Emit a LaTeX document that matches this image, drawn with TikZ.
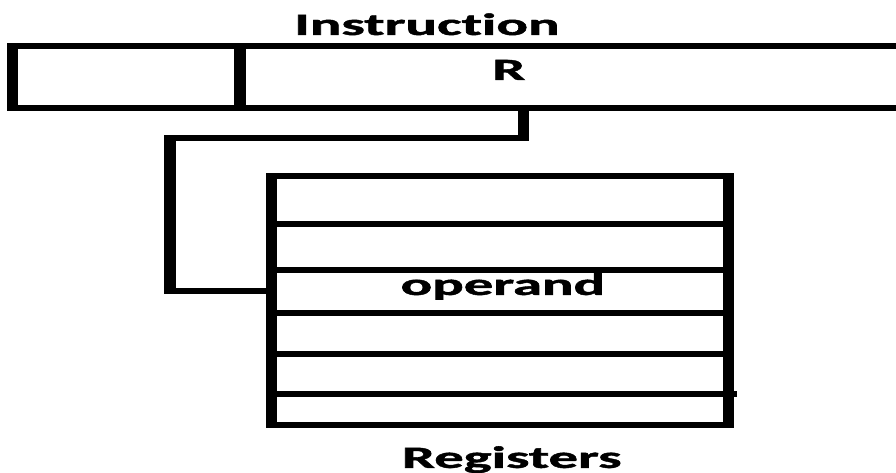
\documentclass[tikz,border=0pt]{standalone}
\usepackage{fontspec}
\setsansfont{Carlito}[Ligatures=NoCommon,BoldFeatures={FakeBold=1.2}]
\usetikzlibrary{positioning}
\newlength\px \setlength\px{0.025cm}
\newlength\hpx \setlength\hpx{0.013158cm}
\tikzset{
  field/.style={draw,rectangle,line width=6\px,outer sep=0pt,inner sep=0pt,minimum height=62\px},
  regrow/.style={draw,rectangle,line width=6\px,outer sep=0pt,inner sep=0pt,minimum width=457.5\hpx},
  wire/.style={line width=6\px},
  lbl/.style={font=\sffamily\bfseries\fontsize{22}{26}\selectfont,inner sep=0pt,anchor=base}
}

\begin{document}
\begin{tikzpicture}
  \useasboundingbox (0,0) rectangle (22.4,-11.8);
  \begin{scope}[transform canvas={xscale=1.9},x=\hpx,y=-\px]
	% instruction word: mode field + register field
	\node[field,minimum width=227.5\hpx] (mode) at (126.25,77) {};
	\node[field,minimum width=666\hpx,right=0pt of mode] (reg) {};
	\node[lbl] (title) at (427,35) {Instruction};
	\node[lbl] (rname) at (509,80) {R};
	% register file
	\node[regrow,minimum height=48\px] (r1) at (500.25,200) {};
	\node[regrow,minimum height=46\px,below=0pt of r1] (r2) {};
	\node[regrow,minimum height=43\px,below=0pt of r2] (r3) {};
	\node[regrow,minimum height=41\px,below=0pt of r3] (r4) {};
	\node[regrow,minimum height=40\px,below=0pt of r4] (r5) {};
	\node[regrow,minimum height=31\px,below=0pt of r5] (r6) {};
	\node[lbl] (opd) at (503,295) {operand};
	\node[lbl] (bank) at (512,468) {Registers};
	% R picks the register
	\coordinate (tap) at (523.5,108);
	\coordinate (bend) at (170,138);
	\draw[wire] (tap) |- (bend) |- (r3.west);
	\draw[wire] (r6.north east) -- ++(8,0);
  \end{scope}
\end{tikzpicture}
\end{document}
